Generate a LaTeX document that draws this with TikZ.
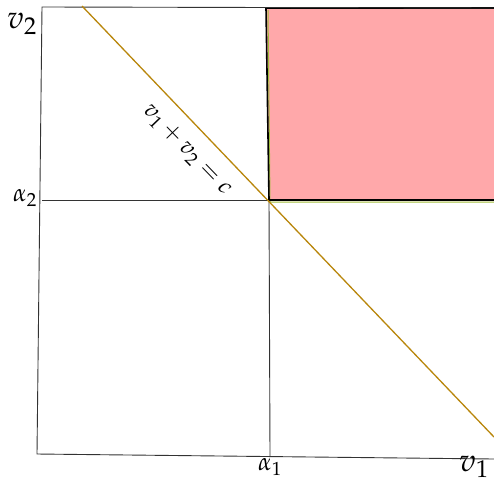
\documentclass[tikz,border=0pt]{standalone}
\usepackage{xcolor}
\usepackage{mathpazo}
\usepackage{tikz}
\usetikzlibrary{positioning}

\definecolor{regionpink}{RGB}{255,168,170}
\definecolor{budgetgold}{RGB}{184,134,11}
\definecolor{edgegreen}{RGB}{160,190,60}

\begin{document}
\begin{tikzpicture}[
    x=1pt, y=-1pt,
    axis/.style={draw=black!80, line width=0.9pt},
    budget/.style={draw=budgetgold, line width=1.3pt},
    every node/.style={inner sep=0pt, font=\fontsize{25}{27}\selectfont}
]
\useasboundingbox (0,0) rectangle (494,479);
% feasible region
\fill[regionpink] (266,8) -- (494,8) -- (494,201) -- (269,201) -- cycle;
\draw[edgegreen, line width=1pt] (268,10) -- (270,202) -- (494,202);
\draw[black, line width=1.6pt] (494,8) -- (266,8) -- (269,200) -- (494,200);
% axes and guides
\draw[axis] (494,8) -- (42,7) -- (37,454) -- (494,459);
\draw[axis] (42,200) -- (269,200);
\draw[axis] (269,200) -- (270,456);
\draw[budget] (82,6) -- (494,437);
% labels
\node (vtwo) at (22,24) {\fontsize{32}{34}\selectfont$v_2$};
\node (vone) at (474,467) {\fontsize{32}{34}\selectfont$v_1$};
\node (atwo) at (25,198) {$\alpha_2$};
\node (aone) at (270,467) {$\alpha_1$};
\node[rotate=-46] (sum) at (187,150) {\fontsize{24}{26}\selectfont$v_1+v_2=c$};
\end{tikzpicture}
\end{document}
